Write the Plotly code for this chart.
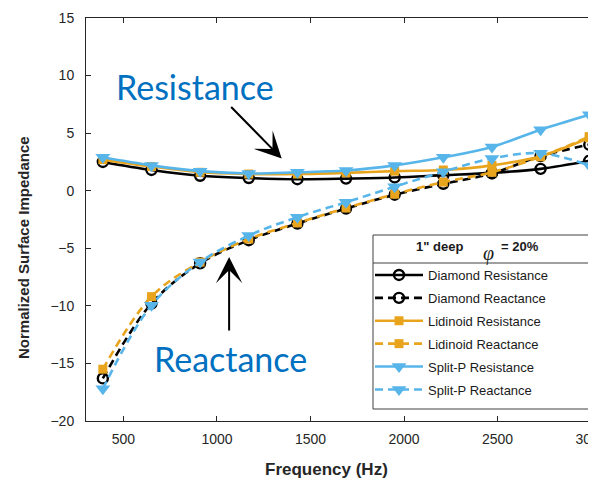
import plotly.graph_objects as go

freq = [390, 650, 910, 1170, 1430, 1690, 1950, 2210, 2470, 2730, 2990]
diamond_res = [2.5, 1.8, 1.3, 1.1, 1.0, 1.05, 1.15, 1.35, 1.55, 1.9, 2.6]
diamond_rea = [-16.3, -9.8, -6.3, -4.3, -2.85, -1.55, -0.35, 0.6, 1.5, 3.0, 4.0]
lidinoid_res = [2.7, 2.1, 1.6, 1.45, 1.45, 1.55, 1.7, 1.8, 2.2, 3.0, 4.6]
lidinoid_rea = [-15.5, -9.2, -6.2, -4.2, -2.8, -1.5, -0.3, 0.75, 1.6, 2.95, 4.7]
splitp_res = [2.9, 2.2, 1.7, 1.5, 1.6, 1.75, 2.2, 2.9, 3.8, 5.3, 6.6]
splitp_rea = [-17.2, -9.95, -6.2, -3.9, -2.3, -1.0, 0.35, 1.65, 2.8, 3.25, 2.2]

x_ticks = [500, 1000, 1500, 2000, 2500, 3000]
y_ticks = [-20, -15, -10, -5, 0, 5, 10, 15]

BLACK = "#000000"
ORANGE = "#E9A41E"
BLUE = "#57B5EA"
DASH = "8px,5px"

OFF = 8  # page body margin offset
W, H = 596 - OFF, 484 - OFF
# desired plot area in page pixels: left 86, top 18, bottom 421, right 596
ML, MT = 86 - OFF, 18 - OFF
MR = W - (596 - OFF)
MB = H - (421 - OFF)
PW = W - ML - MR
PH = H - MT - MB


def px2paper(px, py):
    """page pixel -> paper coords"""
    fx, fy = px - OFF, py - OFF
    return (fx - ML) / PW, (H - MB - fy) / PH


series = [
    ("Diamond Resistance", diamond_res, BLACK, "solid", "circle-open", 10),
    ("Diamond Reactance", diamond_rea, BLACK, DASH, "circle-open", 10),
    ("Lidinoid Resistance", lidinoid_res, ORANGE, "solid", "square", 9),
    ("Lidinoid Reactance", lidinoid_rea, ORANGE, DASH, "square", 9),
    ("Split-P Resistance", splitp_res, BLUE, "solid", "triangle-down", 13),
    ("Split-P Reactance", splitp_rea, BLUE, DASH, "triangle-down", 13),
]

fig = go.Figure()
for i, (name, vals, col, dash, sym, size) in enumerate(series):
    fig.add_trace(go.Scatter(
        x=freq, y=vals, name=name, mode="lines+markers",
        line=dict(color=col, width=2.6, dash=dash, shape="spline", smoothing=1.0),
        marker=dict(symbol=sym, size=size, color=col,
                    line=dict(color=col, width=2.4 if sym == "circle-open" else 0)),
        legendgroup=f"g{i}",
    ))

lx, ly = px2paper(370, 260)
fig.update_layout(
    width=W, height=H,
    margin=dict(l=ML, r=MR, t=MT, b=MB, autoexpand=False),
    paper_bgcolor="white", plot_bgcolor="white",
    font=dict(family="Liberation Sans, Arial, sans-serif", color="#262626"),
    showlegend=True,
    legend=dict(x=lx, y=ly, xanchor="left", yanchor="top",
                bgcolor="rgba(0,0,0,0)", borderwidth=0,
                font=dict(size=13, color="#1a1a1a"),
                itemwidth=48, tracegroupgap=3),
    xaxis=dict(range=[300, 300 + PW / 0.18708], tickvals=x_ticks,
               ticks="inside", ticklen=5, tickcolor="#262626",
               showline=True, linecolor="#262626", linewidth=1, mirror="ticks",
               showgrid=False, zeroline=False, ticklabeloverflow="allow",
               tickfont=dict(size=14, color="#262626"), ticklabelstandoff=5),
    yaxis=dict(range=[-20, 15], tickvals=y_ticks,
               ticks="inside", ticklen=5, tickcolor="#262626",
               showline=True, linecolor="#262626", linewidth=1, mirror=False,
               showgrid=False, zeroline=False,
               tickfont=dict(size=14, color="#262626"), ticklabelstandoff=8),
)

# legend box with separator
bx0, by0 = px2paper(373, 235)
bx1, by1 = px2paper(610, 409)
_, sep = px2paper(373, 263)
fig.add_shape(type="rect", xref="paper", yref="paper", x0=bx0, x1=bx1, y0=by1, y1=by0,
              line=dict(color="#404040", width=1), fillcolor="white", layer="below")
fig.add_shape(type="line", xref="paper", yref="paper", x0=bx0, x1=bx1, y0=sep, y1=sep,
              line=dict(color="#404040", width=1))


def label(px, py, text, size, color="#1a1a1a", family=None, angle=0, xanchor="center"):
    tx, ty = px2paper(px, py)
    f = dict(size=size, color=color)
    if family:
        f["family"] = family
    return dict(xref="paper", yref="paper", x=tx, y=ty, text=text, showarrow=False,
                xanchor=xanchor, yanchor="middle", textangle=angle, font=f)


annos = [
    label(439, 247, '<b>1" deep</b>', 13),
    label(488, 253, '<i>φ</i>', 20, family="Liberation Serif, serif"),
    label(499, 246, '<b>= 20%</b>', 13, xanchor="left"),
    label(326, 470, "<b>Frequency (Hz)</b>", 17, color="#262626"),
    label(23, 248, "<b>Normalized Surface Impedance</b>", 15, color="#262626", angle=-90),
    label(195, 86, "Resistance", 34, color="#0070C0", family="Lato, sans-serif"),
    label(230, 358, "Reactance", 34, color="#0070C0", family="Lato, sans-serif"),
    dict(x=1346, y=2.8, xref="x", yref="y", ax=-52, ay=-53, text="", showarrow=True,
         arrowhead=3, arrowsize=2.2, arrowwidth=2, arrowcolor="black"),
    dict(x=1065, y=-5.75, xref="x", yref="y", ax=0, ay=75, text="", showarrow=True,
         arrowhead=3, arrowsize=2.2, arrowwidth=2, arrowcolor="black"),
]
fig.update_layout(annotations=annos)

fig.write_html("out.html")
